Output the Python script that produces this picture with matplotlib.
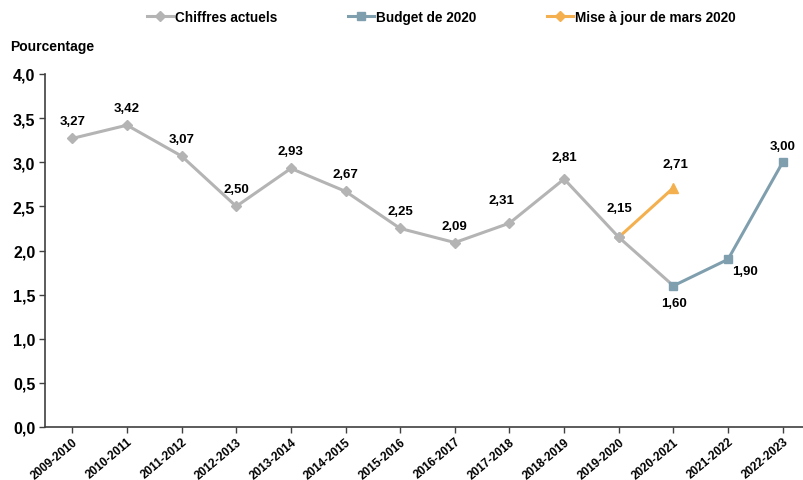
import matplotlib
matplotlib.use("Agg")
import matplotlib.pyplot as plt
from matplotlib.lines import Line2D

categories = ["2009-2010", "2010-2011", "2011-2012", "2012-2013", "2013-2014",
              "2014-2015", "2015-2016", "2016-2017", "2017-2018", "2018-2019",
              "2019-2020", "2020-2021", "2021-2022", "2022-2023"]
actuels = [3.27, 3.42, 3.07, 2.50, 2.93, 2.67, 2.25, 2.09, 2.31, 2.81, 2.15]
budget = [1.60, 1.90, 3.00]
mise_a_jour = [2.15, 2.71]

c_gray = "#B4B4B4"
c_blue = "#809FAE"
c_orange = "#F4B04E"

FONT = ["Liberation Sans Narrow", "Liberation Sans", "DejaVu Sans"]
plt.rcParams['font.family'] = FONT
plt.rcParams['font.weight'] = 'bold'

fig = plt.figure(figsize=(8.04, 4.81), dpi=100)
ax = fig.add_axes([45/804, 1-428/481, (810-45)/804, (428-75)/481])

x_act = list(range(len(actuels)))
x_bud = list(range(11, 14))
x_maj = [10, 11]

ax.plot([x_act[-1], x_bud[0]], [actuels[-1], budget[0]], color=c_gray, lw=2.2, zorder=2)
ax.plot(x_act, actuels, color=c_gray, lw=2.2, marker="D", ms=5, zorder=3)
ax.plot(x_bud, budget, color=c_blue, lw=2.2, marker="s", ms=6, zorder=3)
ax.plot(x_maj, mise_a_jour, color=c_orange, lw=2.2, zorder=2)
ax.plot([x_maj[-1]], [mise_a_jour[-1]], color=c_orange, marker="^", ms=7, ls="none", zorder=3)
ax.plot([x_act[-1]], [actuels[-1]], color=c_gray, marker="D", ms=5, zorder=4)

def fmt(v):
    return f"{v:.2f}".replace(".", ",")

PX = 0.72  # points per pixel at 100 dpi
# label offsets in pixels (dx, dy up)
act_off = [(0, 17)] * 8 + [(-8, 23), (0, 22), (1, 29)]
bud_off = [(1, -17), (17, -12), (0, 16)]
maj_off = (2, 24)

def lab(x, y, off):
    ax.annotate(fmt(y), (x, y), xytext=(off[0]*PX, off[1]*PX), textcoords="offset points",
                ha="center", va="center", fontsize=9.5, fontweight="bold", zorder=5)

for xi, v, o in zip(x_act, actuels, act_off):
    lab(xi, v, o)
for xi, v, o in zip(x_bud, budget, bud_off):
    lab(xi, v, o)
lab(x_maj[1], mise_a_jour[1], maj_off)

ax.set_xlim(-0.5, 13.5)
ax.set_ylim(0, 4.0)
yt = [i * 0.5 for i in range(9)]
ax.set_yticks(yt)
ax.set_yticklabels([f"{v:.1f}".replace(".", ",") for v in yt], fontsize=11.5, fontweight="bold")
ax.set_xticks(range(len(categories)))
ax.set_xticklabels(categories, rotation=40, ha="right", rotation_mode="anchor",
                   fontsize=8.5, fontweight="bold")
ax.tick_params(axis="x", length=4, width=1, color="#404040", pad=2)
ax.tick_params(axis="y", length=4, width=1, color="#404040", pad=3)
for s in ["top", "right"]:
    ax.spines[s].set_visible(False)
for s in ["left", "bottom"]:
    ax.spines[s].set_color("#404040")
    ax.spines[s].set_linewidth(1.2)

fig.text(10/804, 1-47/481, "Pourcentage", fontsize=10, fontweight="bold", va="center", ha="left")

handles = [
    Line2D([], [], color=c_gray, lw=2.2, marker="D", ms=5),
    Line2D([], [], color=c_blue, lw=2.2, marker="s", ms=6),
    Line2D([], [], color=c_orange, lw=2.2, marker="D", ms=5),
]
labels = ["Chiffres actuels", "Budget de 2020", "Mise à jour de mars 2020"]
fig.legend(handles, labels, loc="center", bbox_to_anchor=(441/804, 1-18/481), ncol=3,
           frameon=False, handlelength=1.9, handletextpad=0.15,
           columnspacing=5.2, prop={"weight": "bold", "size": 9.8, "family": FONT})

fig.savefig("out.png", dpi=100)
